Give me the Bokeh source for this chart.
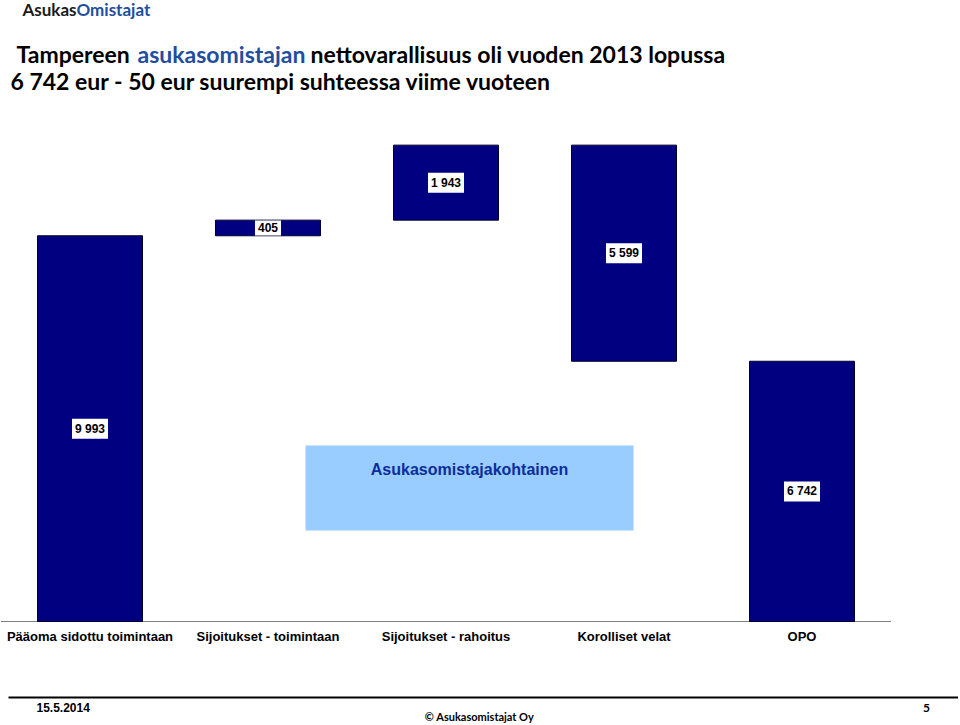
from bokeh.plotting import figure
from bokeh.models import Range1d, ColumnDataSource, Label, BoxAnnotation
from bokeh.core.properties import value
from bokeh.embed import file_html
from bokeh.resources import INLINE

# ---- data ----
categories = ["Pääoma sidottu toimintaan", "Sijoitukset - toimintaan",
              "Sijoitukset - rahoitus", "Korolliset velat", "OPO"]
values = [9993, 405, 1943, -5599, 6742]
kinds = ["total", "delta", "delta", "delta", "total"]

bottoms, tops = [], []
running = 0
for v, k in zip(values, kinds):
    if k == "total":
        bottoms.append(0)
        tops.append(v)
        running = v
    else:
        b, t = running, running + v
        bottoms.append(min(b, t))
        tops.append(max(b, t))
        running = t
labels = [f"{abs(v):,}".replace(",", " ") for v in values]
idx = list(range(len(categories)))
mids = [(b + t) / 2 for b, t in zip(bottoms, tops)]

# ---- layout helpers (reference pixel -> data) ----
W, H = 958, 723
OFF = 0
CAT_PX = 178.0
CX0 = 89.5
BASE = 621.0
PXU = 0.0386


def dx(X):
    return (X - CX0) / CAT_PX


def dy(Y):
    return (BASE - Y) / PXU


p = figure(width=W, height=H,
           x_range=Range1d(dx(OFF), dx(OFF + W)),
           y_range=Range1d(dy(OFF + H), dy(OFF)),
           output_backend="svg", toolbar_location=None,
           x_axis_location=None, y_axis_location=None,
           min_border=0)
p.grid.visible = False
p.outline_line_color = None
p.background_fill_color = "white"

ARIAL = value("Liberation Sans")

# light blue info box
p.add_layout(BoxAnnotation(left=dx(305), right=dx(633), bottom=dy(530), top=dy(445),
                           fill_color="#99CCFF", fill_alpha=1.0, line_color=None,
                           level="underlay"))
p.add_layout(Label(x=dx(469), y=dy(469), text="Asukasomistajakohtainen",
                   text_align="center", text_baseline="middle",
                   text_font="Liberation Sans", text_font_style="bold",
                   text_font_size="16px", text_color="#0B2E9C"))

# baseline
p.segment(x0=[-0.5], x1=[len(categories) - 0.5], y0=[0], y1=[0],
          line_color="#808080", line_width=1)

src = ColumnDataSource(dict(x=idx, bottom=bottoms, top=tops, mid=mids,
                            label=labels, cat=categories))
p.vbar(x="x", bottom="bottom", top="top", width=0.59, source=src,
       fill_color="#000080", line_color="#00002a", line_width=1)

# value labels with white boxes
p.text(x="x", y="mid", text="label", source=src,
       text_align="center", text_baseline="middle",
       text_font=ARIAL, text_font_style="bold",
       text_font_size="12px", text_color="black",
       background_fill_color="white", background_fill_alpha=1.0,
       padding=3)

# category labels
p.text(x="x", y=dy(636), text="cat", source=src,
       text_align="center", text_baseline="middle",
       text_font=ARIAL, text_font_style="bold", text_font_size="13px",
       text_color="black")

# ---- header ----
def lab(x, y, t, color, size, font="Lato", bold=True, align="left"):
    p.add_layout(Label(x=dx(x), y=dy(y), text=t, text_align=align,
                       text_baseline="middle", text_font=font,
                       text_font_style="bold" if bold else "normal",
                       text_font_size=size, text_color=color))

lab(22, 9, "Asukas", "#1a1a1a", "17px")
lab(76, 9, "Omistajat", "#1F4E9E", "17px")
lab(16, 53, "Tampereen", "black", "23px")
lab(137, 53, "asukasomistajan", "#1F4E9E", "23px")
lab(310, 53, "nettovarallisuus oli vuoden 2013 lopussa", "black", "23px")
lab(10, 80, "6 742 eur - 50 eur suurempi suhteessa viime vuoteen", "black", "23px")

# ---- footer ----
p.segment(x0=[dx(8)], x1=[dx(OFF + W)], y0=[dy(697)], y1=[dy(697)],
          line_color="black", line_width=2)
lab(36, 707, "15.5.2014", "black", "12px", font="Liberation Sans")
lab(926, 707, "5", "black", "12px", align="center")
lab(479, 716, "© Asukasomistajat Oy", "black", "11px", align="center")

open("out.html", "w").write(file_html(p, INLINE))
